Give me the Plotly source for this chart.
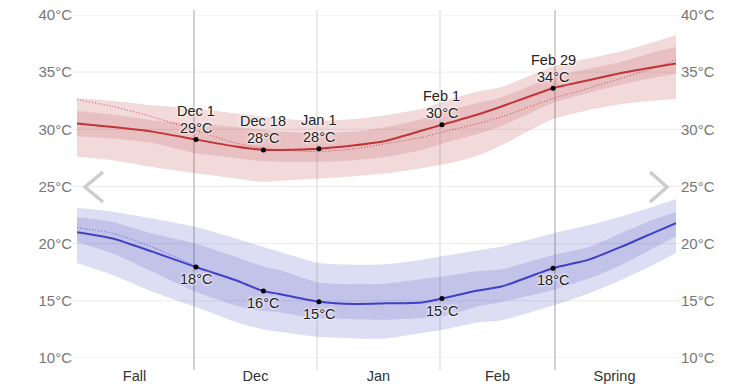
import plotly.graph_objects as go

# ---- data ----
dates = ["2019-11-01", "2019-11-10", "2019-11-20", "2019-12-01", "2019-12-11",
         "2019-12-18", "2019-12-22", "2020-01-01", "2020-01-10", "2020-01-18",
         "2020-01-27", "2020-02-01", "2020-02-10", "2020-02-16", "2020-02-29",
         "2020-03-09", "2020-03-17", "2020-03-25", "2020-03-31"]

high_mean = [30.5, 30.2, 29.8, 29.1, 28.5, 28.2, 28.2, 28.3, 28.6, 29.0,
             29.9, 30.4, 31.3, 32.0, 33.6, 34.3, 34.9, 35.4, 35.75]
high_avg = [32.6, 32.0, 31.1, 29.9, 28.8, 28.35, 28.2, 28.05, 28.3, 28.75,
            29.3, 29.75, 30.5, 31.1, 32.7, 33.6, 34.45, 35.3, 36.1]
high_p75 = [31.6, 31.3, 30.8, 30.5, 30.2, 29.95, 29.8, 29.65, 29.8, 30.2,
            30.9, 31.5, 32.3, 32.8, 34.6, 35.3, 35.9, 36.7, 37.2]
high_p25 = [29.4, 29.2, 28.8, 27.9, 27.5, 27.2, 27.15, 27.15, 27.3, 27.6,
            28.2, 28.75, 29.6, 30.3, 32.3, 33.2, 33.9, 34.5, 34.85]
high_p90 = [32.75, 32.5, 32.1, 31.8, 31.4, 31.1, 30.95, 30.75, 30.9, 31.25,
            31.8, 32.4, 33.3, 33.7, 35.5, 36.2, 36.8, 37.6, 38.25]
high_p10 = [27.6, 27.3, 26.7, 26.15, 25.7, 25.4, 25.5, 25.7, 25.9, 26.15,
            26.6, 26.9, 27.7, 28.6, 30.9, 31.7, 32.2, 32.5, 32.65]

low_mean = [21.0, 20.45, 19.3, 17.95, 16.8, 15.85, 15.6, 14.92, 14.72, 14.78,
            14.86, 15.2, 15.9, 16.25, 17.85, 18.6, 19.7, 20.9, 21.8]
low_avg = [21.4, 20.9, 19.7, 18.05, 16.8, 15.85, 15.6, 14.92, 14.72, 14.78,
           14.86, 15.2, 15.9, 16.25, 17.85, 18.6, 19.7, 20.9, 21.8]
low_p75 = [22.3, 21.9, 20.9, 20.0, 18.85, 18.0, 17.7, 16.6, 16.45, 16.5,
           16.9, 17.1, 17.6, 17.75, 19.0, 19.7, 20.9, 22.05, 22.8]
low_p25 = [20.15, 19.15, 17.55, 15.8, 14.6, 14.1, 14.0, 13.45, 13.4, 13.35,
           13.5, 13.6, 14.5, 14.9, 15.95, 16.95, 18.1, 19.55, 20.65]
low_p90 = [23.15, 22.8, 22.2, 21.45, 20.45, 19.7, 19.3, 18.3, 18.15, 18.2,
           18.6, 18.9, 19.4, 19.75, 20.9, 21.6, 22.35, 23.2, 23.9]
low_p10 = [18.3, 17.25, 15.8, 14.45, 13.15, 12.5, 12.3, 11.85, 11.7, 11.7,
           12.2, 12.45, 13.1, 13.3, 14.6, 15.65, 16.8, 18.1, 19.2]

label_dates = ["2019-12-01", "2019-12-18", "2020-01-01", "2020-02-01", "2020-02-29"]
label_names = ["Dec 1", "Dec 18", "Jan 1", "Feb 1", "Feb 29"]

season_lines = ["2019-12-01", "2020-03-01"]
month_lines = ["2020-01-01", "2020-02-01"]

tick_dates = ["2019-11-16", "2019-12-16 12:00", "2020-01-16 12:00", "2020-02-15 12:00", "2020-03-16"]
tick_text = ["Fall", "Dec", "Jan", "Feb", "Spring"]
y_ticks = [10, 15, 20, 25, 30, 35, 40]
y_tick_text = [f"{v}°C" for v in y_ticks]

# ---- figure ----
FONT = "Arial, 'Liberation Sans', sans-serif"
x = [d + " 12:00" for d in dates]
xr = ["2019-11-01 12:00", "2020-03-31 12:00"]

RED_BASE = "183,50,53"
BLUE_BASE = "60,60,186"

fig = go.Figure()


def band(lo, hi, color):
    fig.add_trace(go.Scatter(x=x, y=lo, mode="lines", line=dict(width=0, shape="spline", smoothing=0.6),
                             hoverinfo="skip", showlegend=False))
    fig.add_trace(go.Scatter(x=x, y=hi, mode="lines", line=dict(width=0, shape="spline", smoothing=0.6),
                             fill="tonexty", fillcolor=color, hoverinfo="skip", showlegend=False))


band(high_p10, high_p90, f"rgba({RED_BASE},0.18)")
band(high_p25, high_p75, f"rgba({RED_BASE},0.15)")
band(low_p10, low_p90, f"rgba({BLUE_BASE},0.174)")
band(low_p25, low_p75, f"rgba({BLUE_BASE},0.155)")

fig.add_trace(go.Scatter(x=x, y=high_avg, mode="lines",
                         line=dict(color="rgb(205,70,72)", width=1, dash="1px,2px", shape="spline", smoothing=0.6),
                         hoverinfo="skip", showlegend=False))
fig.add_trace(go.Scatter(x=x, y=low_avg, mode="lines",
                         line=dict(color="rgb(80,80,205)", width=1, dash="1px,2px", shape="spline", smoothing=0.6),
                         hoverinfo="skip", showlegend=False))
fig.add_trace(go.Scatter(x=x, y=high_mean, mode="lines",
                         line=dict(color="rgb(192,52,55)", width=2, shape="spline", smoothing=0.6),
                         showlegend=False))
fig.add_trace(go.Scatter(x=x, y=low_mean, mode="lines",
                         line=dict(color="rgb(64,64,196)", width=2, shape="spline", smoothing=0.6),
                         showlegend=False))

idx = [dates.index(d) for d in label_dates]
lx = [x[i] for i in idx]
hv = [high_mean[i] for i in idx]
lv = [low_mean[i] for i in idx]
fig.add_trace(go.Scatter(x=lx + lx, y=hv + lv, mode="markers",
                         marker=dict(color="black", size=5), showlegend=False))
# invisible trace on the right axis so it is drawn
fig.add_trace(go.Scatter(x=[xr[0]], y=[10], yaxis="y2", mode="markers",
                         marker=dict(opacity=0), hoverinfo="skip", showlegend=False))

shadow = "0px 0px 2px rgba(255,255,255,0.9), 0px 0px 3px rgba(255,255,255,0.9), 0px 0px 4px rgba(255,255,255,0.8)"
afont = dict(family=FONT, size=14.5, color="#222", shadow=shadow)
for xi, name, h, l in zip(lx, label_names, hv, lv):
    fig.add_annotation(x=xi, y=h, text=name, showarrow=False, yshift=28.5, font=afont)
    fig.add_annotation(x=xi, y=h, text=f"{round(h)}°C", showarrow=False, yshift=11.6, font=afont)
    fig.add_annotation(x=xi, y=l, text=f"{round(l)}°C", showarrow=False, yshift=-12, font=afont)

shapes = []
for v in y_ticks:
    shapes.append(dict(type="line", xref="paper", yref="y", x0=-0.0083, x1=1.0067, y0=v, y1=v,
                       line=dict(color="#ebebeb", width=1), layer="below"))
for d in season_lines:
    shapes.append(dict(type="line", xref="x", yref="paper", x0=d, x1=d, y0=-0.035, y1=1.0146,
                       line=dict(color="#c6c6c6", width=1.6), layer="below"))
for d in month_lines:
    shapes.append(dict(type="line", xref="x", yref="paper", x0=d, x1=d, y0=-0.035, y1=1.0146,
                       line=dict(color="#e6e6e6", width=1.6), layer="below"))
# navigation chevrons
shapes.append(dict(type="path", xref="paper", yref="paper",
                   path="M 0.0434,0.5423 L 0.0134,0.4985 L 0.0434,0.4548",
                   line=dict(color="#cdcdcd", width=3.5), layer="above"))
shapes.append(dict(type="path", xref="paper", yref="paper",
                   path="M 0.9566,0.5423 L 0.9850,0.4985 L 0.9566,0.4548",
                   line=dict(color="#cdcdcd", width=3.5), layer="above"))

yaxis_common = dict(range=[10, 40], tickmode="array", tickvals=y_ticks, ticktext=y_tick_text,
                    showgrid=False, zeroline=False, automargin=False, ticklabeloverflow="allow",
                    showline=False, ticks="", ticklabelstandoff=4,
                    tickfont=dict(family=FONT, size=15, color="#777"), fixedrange=True)

fig.update_layout(
    width=753, height=387,
    margin=dict(l=77, r=77, t=15, b=29),
    paper_bgcolor="white", plot_bgcolor="white",
    showlegend=False,
    xaxis=dict(type="date", range=xr, tickmode="array", tickvals=tick_dates, ticktext=tick_text,
               showgrid=False, automargin=False, ticklabeloverflow="allow",
               zeroline=False, showline=False, ticks="", ticklabelstandoff=7,
               tickfont=dict(family=FONT, size=14.5, color="#333"), fixedrange=True),
    yaxis=yaxis_common,
    yaxis2=dict(yaxis_common, overlaying="y", side="right"),
    shapes=shapes,
    hovermode=False,
)

# remove the browser's default 8px page margin so the figure fills the window
fig.write_html("out.html", config={"displayModeBar": False},
               post_script="document.body.style.margin='0px';")
